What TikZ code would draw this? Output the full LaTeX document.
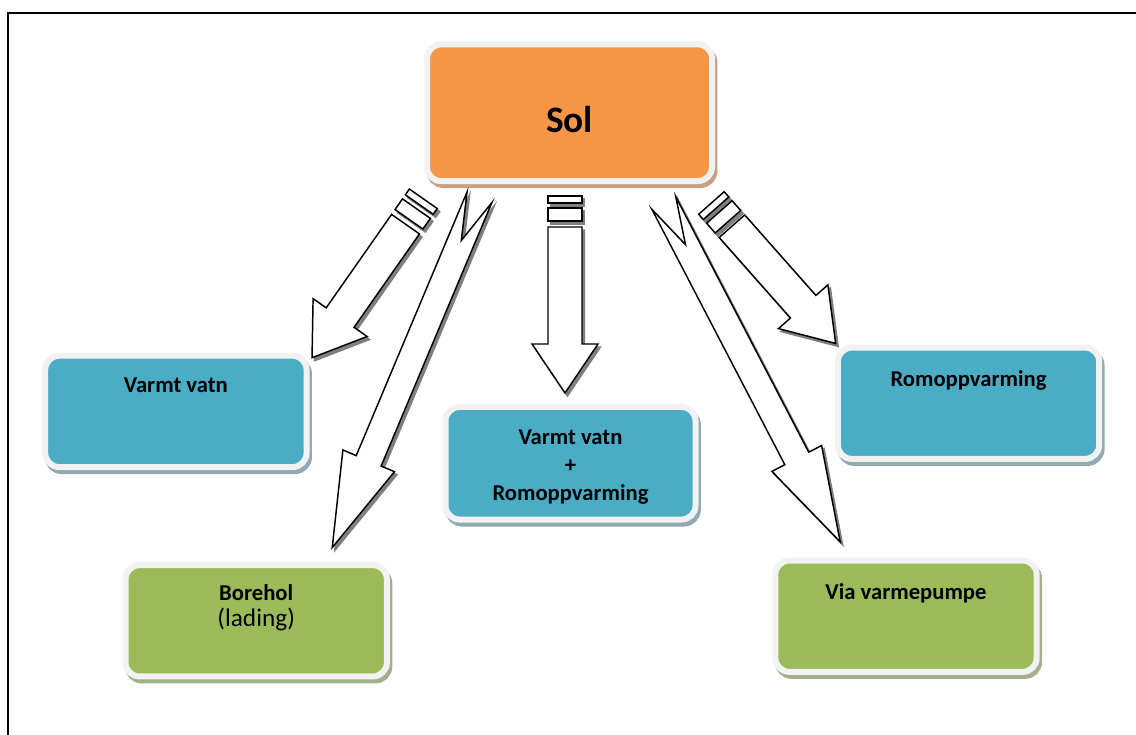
\documentclass[tikz,border=0pt]{standalone}
\usepackage{fontspec}
\setmainfont{Carlito}
\usetikzlibrary{positioning}
\definecolor{solorange}{HTML}{F79646}
\definecolor{solshadow}{HTML}{C9A083}
\definecolor{vatnblue}{HTML}{4BACC6}
\definecolor{vatnshadow}{HTML}{8FAAB3}
\definecolor{holgreen}{HTML}{9BBB59}
\definecolor{holshadow}{HTML}{A4AF8C}
\definecolor{rimgray}{HTML}{F2F2F2}
\definecolor{arrowshadow}{HTML}{7F7F7F}
\begin{document}
\begin{tikzpicture}[x=0.75pt,y=0.75pt,
	box/.style={draw=rimgray,line width=4.5pt,rounded corners=10.5pt,inner sep=0pt,minimum width=196pt,minimum height=83.5pt},
	boxshadow/.style={preaction={fill=#1,draw=#1,transform canvas={xshift=1.8pt,yshift=-3pt}}},
	solbox/.style={box,fill=solorange,boxshadow=solshadow,minimum width=213.75pt,minimum height=102.4pt},
	bluebox/.style={box,fill=vatnblue,boxshadow=vatnshadow},
	greenbox/.style={box,fill=holgreen,boxshadow=holshadow},
	boxtext/.style={inner sep=0pt,align=center,font=\fontsize{17}{20.9}\selectfont\bfseries},
	soltext/.style={inner sep=0pt,font=\fontsize{28}{34}\selectfont\bfseries},
	blockarrow/.style 2 args={draw=#1,fill=#2,line width=1.1pt}]
	% striped block arrow: top of stripes, angle, end of shaft
	\def\stripedarrow#1#2#3#4{
		\foreach \dx/\dy/\dc/\fc in {2.5/3/arrowshadow/arrowshadow,0/0/black/white}{
			\begin{scope}[shift={(#1+\dx,#2-\dy)},rotate=#3]
				\path[blockarrow={\dc}{\fc}] (-17,0) rectangle (17,-7);
				\path[blockarrow={\dc}{\fc}] (-17,-12) rectangle (17,-25);
				\path[blockarrow={\dc}{\fc}] (-17,-31)--(17,-31)--(17,-#4)--(33,-#4)--(0,-#4-49)--(-33,-#4)--(-17,-#4)--cycle;
			\end{scope}
		}
	}
	% notched block arrow: middle of tail, angle, end of shaft
	\def\notcharrow#1#2#3#4{
		\foreach \dx/\dy/\dc/\fc in {2.5/3/arrowshadow/arrowshadow,0/0/black/white}{
			\path[blockarrow={\dc}{\fc},shift={(#1+\dx,#2-\dy)},rotate=#3] (-13.5,0)--(0,-47)--(13.5,0)--(13.5,-#4)--(28,-#4)--(0,-#4-94)--(-28,-#4)--(-13.5,-#4)--cycle;
		}
	}
	\useasboundingbox (0,0) rectangle (1136,-735);
	\draw[line width=1.9pt] (8,-735)--(8,-12.8)--(1136,-12.8);
	% boxes
	\node[solbox] (sol) at (569.5,-112.75) {};
	\node[bluebox] (vv) at (175.9,-411.4) {};
	\node[bluebox,minimum width=187.5pt,minimum height=84.4pt] (mid) at (570.5,-463.25) {};
	\node[bluebox] (rom) at (968.5,-403.25) {};
	\node[greenbox] (bore) at (256.2,-620.8) {};
	\node[greenbox] (via) at (906,-616.2) {};
	% texts
	\node[soltext,below=48.5pt of sol.north] (soltxt) {Sol};
	\node[boxtext,below=18.9pt of vv.north] (vvtxt) {Varmt vatn};
	\node[boxtext,below=19.3pt of mid.north] (midtxt) {Varmt vatn\\+\\Romoppvarming};
	\node[boxtext,below=19.4pt of rom.north] (romtxt) {Romoppvarming};
	\node[boxtext,font=\fontsize{17}{19}\selectfont\bfseries,below=16.8pt of bore.north] (boretxt) {Borehol\\{\mdseries\fontsize{19}{19}\selectfont(lading)}};
	\node[boxtext,below=19.5pt of via.north] (viatxt) {Via varmepumpe};
	% arrows
	\stripedarrow{565}{-196}{0}{148}
	\stripedarrow{423.3}{-198.8}{-35}{145}
	\stripedarrow{711.4}{-203}{41.5}{138.5}
	\notcharrow{479.5}{-197.2}{-22.8}{286}
	\notcharrow{663.8}{-203}{27.5}{288}
\end{tikzpicture}
\end{document}
